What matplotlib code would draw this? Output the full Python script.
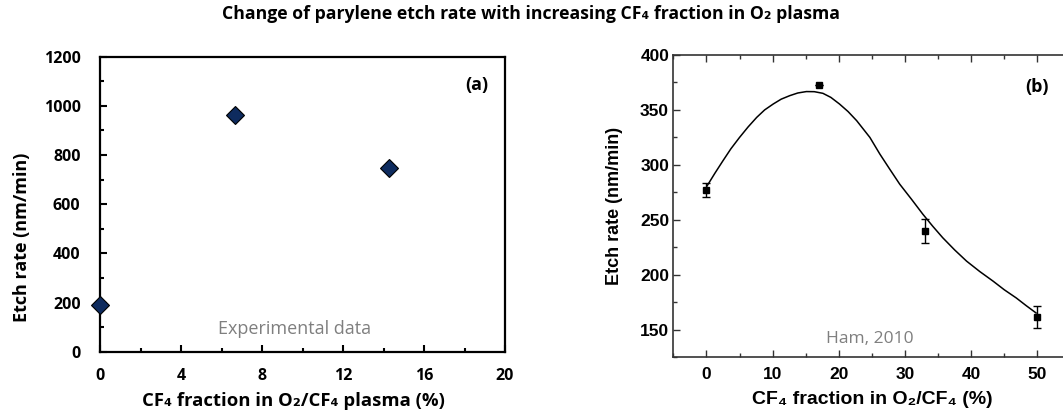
import matplotlib
matplotlib.use("Agg")
import matplotlib.pyplot as plt
from matplotlib.ticker import MultipleLocator

# (a) experimental data
exp_x = [0, 6.67, 14.28]
exp_y = [189, 963, 746]

# (b) Ham, 2010 data points with error bars
ham_x = [0, 17, 33, 50]
ham_y = [277, 373, 240, 161]
ham_err = [6, 0, 11, 10]

# (b) fitted curve
fit_x = [0.1, 1.3, 2.5, 3.7, 5.0, 6.3, 7.6, 8.8, 10.1, 11.3, 12.6, 13.8, 15.1, 16.3,
         17.6, 18.8, 20.1, 21.4, 22.7, 24.7, 26.2, 27.7, 29.2, 31.0, 32.7, 34.2,
         35.7, 37.5, 39.3, 41.3, 43.3, 45.0, 46.8, 48.3, 49.8]
fit_y = [280.8, 292.5, 303.7, 314.6, 324.9, 334.5, 343.2, 350.0, 355.4, 359.8,
         363.0, 365.4, 366.7, 366.6, 365.1, 361.4, 355.4, 348.5, 340.2, 324.9,
         309.8, 296.0, 282.4, 268.5, 255.0, 244.0, 233.6, 222.5, 212.3, 202.8,
         194.1, 186.2, 178.8, 171.8, 165.1]

calibri = ["Open Sans", "DejaVu Sans"]
helv = ["Liberation Sans", "DejaVu Sans"]

fig = plt.figure(figsize=(10.63, 4.15), dpi=100)

fig.text(0.5, 0.967, "Change of parylene etch rate with increasing CF\u2084 fraction in O\u2082 plasma",
         ha="center", va="center", fontsize=12.7, fontweight="bold", family=calibri)

# ---- panel (a)
ax1 = fig.add_axes([100 / 1063, 1 - 351.7 / 415, 405 / 1063, 295 / 415])
ax1.plot(exp_x, exp_y, linestyle="none", marker="D", markersize=9,
         markerfacecolor="#0E2B5E", markeredgecolor="black", markeredgewidth=0.8,
         clip_on=False, zorder=5)
ax1.set_xlim(0, 20)
ax1.set_ylim(0, 1200)
ax1.xaxis.set_major_locator(MultipleLocator(4))
ax1.xaxis.set_minor_locator(MultipleLocator(2))
ax1.yaxis.set_major_locator(MultipleLocator(200))
ax1.yaxis.set_minor_locator(MultipleLocator(100))
ax1.tick_params(which="both", direction="in", width=1.5)
ax1.tick_params(axis="x", pad=12)
ax1.tick_params(axis="y", pad=14)
ax1.tick_params(which="major", length=5)
ax1.tick_params(which="minor", length=3)
for s in ax1.spines.values():
    s.set_linewidth(1.6)
for lab in ax1.get_xticklabels() + ax1.get_yticklabels():
    lab.set_family(calibri)
    lab.set_fontweight("bold")
    lab.set_fontsize(11.5)
ax1.set_xlabel("CF\u2084 fraction in O\u2082/CF\u2084 plasma (%)", fontsize=13.3,
               fontweight="bold", family=calibri)
ax1.xaxis.set_label_coords(0.477, -0.137)
ax1.set_ylabel("Etch rate (nm/min)", fontsize=13, fontweight="bold",
               family=calibri)
ax1.yaxis.set_label_coords(-0.171, 0.389)
ax1.text(18.6, 1085, "(a)", ha="center", va="center", fontsize=13,
         fontweight="bold", family=calibri)
ax1.text(9.6, 92, "Experimental data", ha="center", va="center", fontsize=13,
         color="#7F7F7F", family=calibri)

# ---- panel (b)
ax2 = fig.add_axes([673.3 / 1063, 1 - 357 / 415, 65 * 6.62 / 1063, 302 / 415])
ax2.plot(fit_x, fit_y, color="black", linewidth=1.1)
ax2.errorbar(ham_x, ham_y, yerr=ham_err, fmt="s", color="black", markersize=5,
             elinewidth=1, capsize=3, capthick=1)
ax2.set_xlim(-5, 60)
ax2.set_ylim(125, 400)
ax2.set_xticks([0, 10, 20, 30, 40, 50])
ax2.xaxis.set_minor_locator(MultipleLocator(5))
ax2.yaxis.set_major_locator(MultipleLocator(50))
ax2.yaxis.set_minor_locator(MultipleLocator(25))
ax2.tick_params(which="both", direction="in", width=1, color="#333333",
                top=True, right=False)
ax2.tick_params(which="major", length=5)
ax2.tick_params(which="minor", length=3)
ax2.tick_params(axis="x", pad=7)
ax2.tick_params(axis="y", pad=3)
for s in ax2.spines.values():
    s.set_linewidth(1.2)
    s.set_color("#333333")
for lab in ax2.get_xticklabels() + ax2.get_yticklabels():
    lab.set_family(helv)
    lab.set_fontweight("bold")
    lab.set_fontsize(12.5)
ax2.set_xlabel("CF\u2084 fraction in O\u2082/CF\u2084 (%)", fontsize=14,
               fontweight="bold", family=helv)
ax2.xaxis.set_label_coords(0.462, -0.113)
ax2.set_ylabel("Etch rate (nm/min)", fontsize=13, fontweight="bold",
               family=helv)
ax2.yaxis.set_label_coords(-0.117, 0.5)
ax2.text(50, 371, "(b)", ha="center", va="center", fontsize=13,
         fontweight="bold", family=calibri)
ax2.text(24.7, 141, "Ham, 2010", ha="center", va="center", fontsize=12.5,
         color="#7F7F7F", family=calibri)

fig.savefig("out.png", dpi=100)
